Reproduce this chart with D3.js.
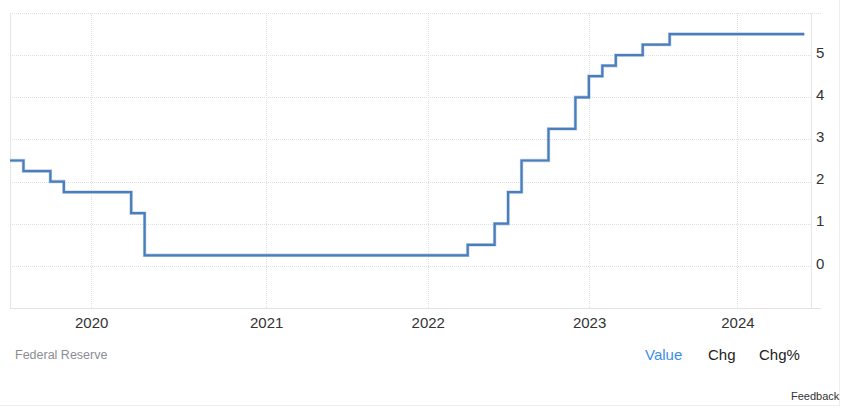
<!DOCTYPE html>
<html>
<head>
<meta charset="utf-8">
<script src="https://cdn.jsdelivr.net/npm/d3@7"></script>
<style>
  body { margin: 0; background: #fff; font-family: "Liberation Sans", Arial, sans-serif; }
</style>
</head>
<body>
<div class="chart"></div>
<script>
// monthly observations (month-end), plus the extra emergency cut on 2020-03-03
const obsDates = [
  "2019-06-30", "2019-07-31", "2019-08-31", "2019-09-30", "2019-10-31", "2019-11-30", "2019-12-31",
  "2020-01-31", "2020-02-29", "2020-03-03", "2020-03-31", "2020-04-30", "2020-05-31", "2020-06-30",
  "2020-07-31", "2020-08-31", "2020-09-30", "2020-10-31", "2020-11-30", "2020-12-31",
  "2021-01-31", "2021-02-28", "2021-03-31", "2021-04-30", "2021-05-31", "2021-06-30",
  "2021-07-31", "2021-08-31", "2021-09-30", "2021-10-31", "2021-11-30", "2021-12-31",
  "2022-01-31", "2022-02-28", "2022-03-31", "2022-04-30", "2022-05-31", "2022-06-30",
  "2022-07-31", "2022-08-31", "2022-09-30", "2022-10-31", "2022-11-30", "2022-12-31",
  "2023-02-28", "2023-03-31", "2023-04-30", "2023-05-31", "2023-06-30",
  "2023-07-31", "2023-08-31", "2023-09-30", "2023-10-31", "2023-11-30", "2023-12-31",
  "2024-01-31", "2024-02-29", "2024-03-31", "2024-04-30", "2024-05-31"
];

const rates = [
  2.50, 2.25, 2.25, 2.00, 1.75, 1.75, 1.75,
  1.75, 1.75, 1.25, 0.25, 0.25, 0.25, 0.25,
  0.25, 0.25, 0.25, 0.25, 0.25, 0.25,
  0.25, 0.25, 0.25, 0.25, 0.25, 0.25,
  0.25, 0.25, 0.25, 0.25, 0.25, 0.25,
  0.25, 0.25, 0.50, 0.50, 1.00, 1.75,
  2.50, 2.50, 3.25, 3.25, 4.00, 4.50,
  4.75, 5.00, 5.00, 5.25, 5.25,
  5.50, 5.50, 5.50, 5.50, 5.50, 5.50,
  5.50, 5.50, 5.50, 5.50, 5.50
];

const yearTicks = [2020, 2021, 2022, 2023, 2024];
const yTickValues = [0, 1, 2, 3, 4, 5];
const yGridValues = [0, 1, 2, 3, 4, 5, 6];
const yDomain = [-1, 6];

const sourceLabel = "Federal Reserve";
const tabLabels = ["Value", "Chg", "Chg%"];

const width = 852;
const height = 412;

const margin = {
  top: 13,
  left: 10,
  bottom: 104,
  right: 41
};

const innerRight = width - margin.right;
const innerBottom = height - margin.bottom;

const parse = d3.timeParse("%Y-%m-%d");
const data = obsDates.map((d, i) => ({date: parse(d), index: i, value: rates[i]}));

// the axis is ordinal in observations; dates map onto the observation index
const dateToIndex = d3.scaleTime()
  .domain(data.map((d) => d.date))
  .range(data.map((d) => d.index));

const xScale = d3.scaleLinear()
  .domain([0, data.length - 0.5])
  .range([margin.left, innerRight]);

const yScale = d3.scaleLinear()
  .domain(yDomain)
  .range([innerBottom, margin.top]);

const svg = d3.select("div.chart")
  .append("svg")
  .attr("width", width)
  .attr("height", height);

// outer frame of the widget
svg.append("line")
  .attr("x1", 0).attr("x2", 840)
  .attr("y1", 405.5).attr("y2", 405.5)
  .attr("stroke", "#eeeeee");
svg.append("line")
  .attr("x1", 839.5).attr("x2", 839.5)
  .attr("y1", 0).attr("y2", 406)
  .attr("stroke", "#eeeeee");

const grid = svg.append("g").attr("class", "grid");

grid.selectAll("line.hgrid")
  .data(yGridValues)
  .enter()
  .append("line")
  .attr("class", "hgrid")
  .attr("x1", margin.left)
  .attr("x2", (d) => d === yDomain[1] ? innerRight + 10 : innerRight)
  .attr("y1", (d) => Math.round(yScale(d)) + 0.5)
  .attr("y2", (d) => Math.round(yScale(d)) + 0.5)
  .attr("stroke", "#e0e0e0")
  .attr("stroke-dasharray", "1,1");

const yearX = (year) => xScale(dateToIndex(new Date(year, 0, 1)));

grid.selectAll("line.vgrid")
  .data(yearTicks)
  .enter()
  .append("line")
  .attr("class", "vgrid")
  .attr("x1", (d) => Math.round(yearX(d)) + 0.5)
  .attr("x2", (d) => Math.round(yearX(d)) + 0.5)
  .attr("y1", margin.top)
  .attr("y2", innerBottom)
  .attr("stroke", "#e0e0e0")
  .attr("stroke-dasharray", "1,1");

// plot borders
grid.append("line")
  .attr("x1", margin.left + 0.5).attr("x2", margin.left + 0.5)
  .attr("y1", margin.top).attr("y2", innerBottom)
  .attr("stroke", "#e6e6e6");
grid.append("line")
  .attr("x1", innerRight + 0.5).attr("x2", innerRight + 0.5)
  .attr("y1", margin.top).attr("y2", innerBottom)
  .attr("stroke", "#e6e6e6");
grid.append("line")
  .attr("x1", margin.left).attr("x2", innerRight + 10)
  .attr("y1", innerBottom + 0.5).attr("y2", innerBottom + 0.5)
  .attr("stroke", "#e3e3e3");

const xAxis = d3.axisBottom(xScale)
  .tickValues(yearTicks.map((y) => dateToIndex(new Date(y, 0, 1))))
  .tickFormat((d, i) => yearTicks[i])
  .tickSize(0)
  .tickPadding(9);

const yAxis = d3.axisRight(yScale)
  .tickValues(yTickValues)
  .tickFormat(d3.format("d"))
  .tickSize(0)
  .tickPadding(5);

const xAxisGroup = svg.append("g").attr("class", "xaxis")
  .attr("transform", `translate(0, ${innerBottom})`)
  .call(xAxis);
const yAxisGroup = svg.append("g").attr("class", "yaxis")
  .attr("transform", `translate(${innerRight}, 0)`)
  .call(yAxis);

[xAxisGroup, yAxisGroup].forEach((g) => {
  g.select(".domain").remove();
  g.selectAll("text")
    .attr("fill", "#333")
    .style("font-family", "'Liberation Sans', Arial, sans-serif")
    .style("font-size", "15px");
});
yAxisGroup.selectAll("text").attr("dy", "0.15em");

const line = d3.line()
  .x((d) => xScale(d.index))
  .y((d) => yScale(d.value))
  .curve(d3.curveStepAfter);

svg.append("path")
  .datum(data)
  .attr("fill", "none")
  .attr("stroke", "#bcd0ea")
  .attr("stroke-width", 3.4)
  .attr("d", line);

svg.append("path")
  .datum(data)
  .attr("fill", "none")
  .attr("stroke", "#4a7dbc")
  .attr("stroke-width", 2.2)
  .attr("d", line);

svg.append("text")
  .attr("x", 15)
  .attr("y", 359)
  .attr("fill", "#8a8d92")
  .style("font-size", "12.5px")
  .text(sourceLabel);

const tabX = [645, 708, 759];
svg.selectAll("text.tab")
  .data(tabLabels)
  .enter()
  .append("text")
  .attr("class", "tab")
  .attr("x", (d, i) => tabX[i])
  .attr("y", 360)
  .attr("fill", (d, i) => i === 0 ? "#3d8ee6" : "#222")
  .style("font-size", "15px")
  .text((d) => d);

svg.append("text")
  .attr("x", 791)
  .attr("y", 400)
  .attr("fill", "#333")
  .style("font-size", "11px")
  .text("Feedback");
</script>
</body>
</html>
